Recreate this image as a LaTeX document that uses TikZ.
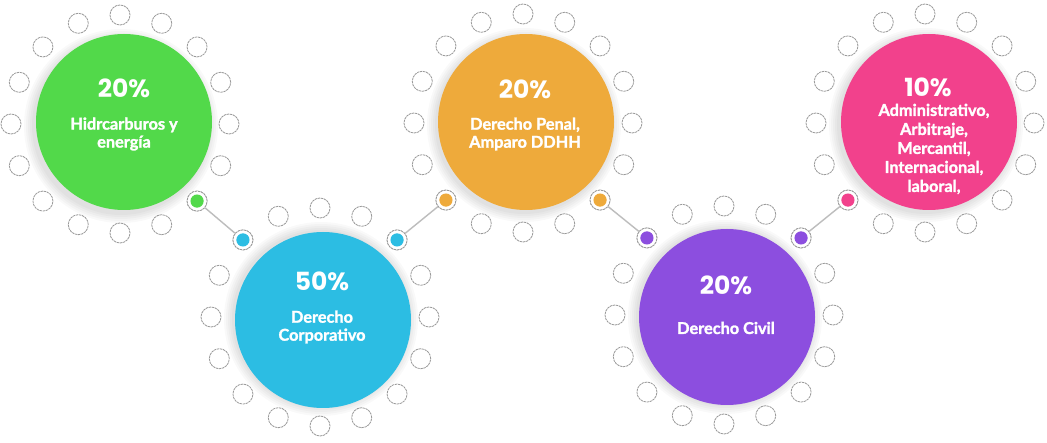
\documentclass[tikz,border=0pt]{standalone}
\usepackage{fontspec}
\setmainfont{Lato}
\newfontfamily\pctfont{Poppins}
\newfontfamily\lblfont{Lato}[FakeBold=1.6]
\usetikzlibrary{calc}
\definecolor{cgreen}{HTML}{52D94A}
\definecolor{cblue}{HTML}{2CBDE3}
\definecolor{corange}{HTML}{EEAA3B}
\definecolor{cpurple}{HTML}{8C4EDF}
\definecolor{cpink}{HTML}{F2418C}
\definecolor{cring}{HTML}{999999}
\definecolor{cline}{HTML}{BDBDBD}
\tikzset{
  smallc/.style={circle, draw=cring, line width=0.8pt, dash pattern=on 2.4pt off 0.7pt, fill=white, minimum size=20pt, inner sep=0pt},
  connc/.style={smallc, path picture={\fill[#1] (path picture bounding box.center) circle (6.6pt);}},
  bigc/.style={circle, minimum size=176pt, inner sep=0pt, draw=none},
  pct/.style={text=white, font=\pctfont\bfseries\fontsize{25}{28}\selectfont, inner sep=0pt},
  lbl/.style={text=white, align=center, font=\lblfont\bfseries\fontsize{16.3}{#1}\selectfont, inner sep=0pt},
  lbl/.default=18,
  link/.style={draw=cline, line width=1.4pt},
}
\newcommand\myring[2]{%
  \foreach \k in {0,...,15}{\node[smallc] (#1-\k) at ($(#2)+(\k*22.5:109)$) {};}%
}
\newcommand\myshadow[1]{%
  \foreach \r in {97,95,93,91,89}{\fill[black, opacity=0.025] ($(#1)+(1,2)$) circle (\r);}%
}
\begin{document}
\begin{tikzpicture}[x=1pt,y=-1pt]
\useasboundingbox (0,0) rectangle (1047,443);
\fill[white] (0,0) rectangle (1047,443);
% ring centres
\coordinate (gc) at (120,124);
\coordinate (bc) at (320,317);
\coordinate (oc) at (523,123);
\coordinate (pc) at (724,315);
\coordinate (kc) at (925,123);
% rings
\myring{g}{gc}
\myring{b}{bc}
\myring{o}{oc}
\myring{p}{pc}
\myring{k}{kc}
% shadows and big circles
\myshadow{gc}\myshadow{bc}\myshadow{oc}\myshadow{pc}\myshadow{kc}
\node[bigc, fill=cgreen] (G) at ($(gc)+(4,-2)$) {};
\node[bigc, fill=cblue] (B) at ($(bc)+(3,3)$) {};
\node[bigc, fill=corange] (O) at ($(oc)+(3,-1)$) {};
\node[bigc, fill=cpurple] (P) at ($(pc)+(3,2)$) {};
\node[bigc, fill=cpink] (K) at ($(kc)+(4,-1)$) {};
% connector circles
\node[connc=cgreen] (g-x) at (g-2) {};
\node[connc=cblue] (b-x) at (b-10) {};
\node[connc=cblue] (b-y) at (b-14) {};
\node[connc=corange] (o-x) at (o-6) {};
\node[connc=corange] (o-y) at (o-2) {};
\node[connc=cpurple] (p-x) at (p-10) {};
\node[connc=cpurple] (p-y) at (p-14) {};
\node[connc=cpink] (k-x) at (k-6) {};
% links
\draw[link] (g-x) -- (b-x);
\draw[link] (b-y) -- (o-x);
\draw[link] (o-y) -- (p-x);
\draw[link] (p-y) -- (k-x);
% texts
\node[pct] (G-p) at (124,88) {20\%};
\node[lbl] (G-t) at (124,134) {Hidrcarburos y\\energía};
\node[pct] (B-p) at (322,281) {50\%};
\node[lbl] (B-t) at (322,327) {Derecho\\Corporativo};
\node[pct] (O-p) at (525,89) {20\%};
\node[lbl] (O-t) at (525,134) {Derecho Penal,\\Amparo DDHH};
\node[pct] (P-p) at (726,285) {20\%};
\node[lbl] (P-t) at (726,328) {Derecho Civil};
\node[pct] (K-p) at (928,87) {10\%};
\node[lbl=19] (K-t) at (934,149) {Administrativo,\\Arbitraje,\\Mercantil,\\Internacional,\\laboral,};
\end{tikzpicture}
\end{document}
